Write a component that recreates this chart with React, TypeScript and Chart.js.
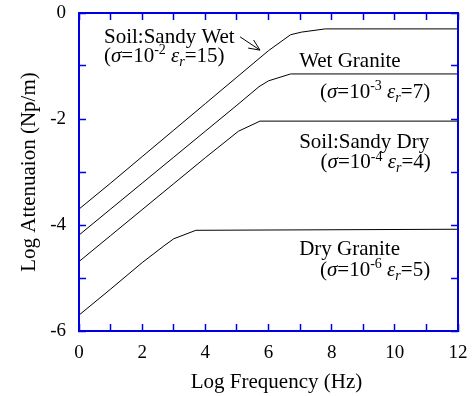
import React, { useEffect, useRef } from "react";
import { Chart, registerables } from "chart.js";

Chart.register(...registerables);

// ---- data ----
const wetSandX = [0, 1, 2, 3, 4, 5, 6, 6.7, 7.05, 7.8, 12];
const wetSandY = [-3.7, -3.21, -2.71, -2.21, -1.71, -1.21, -0.71, -0.41, -0.36, -0.3, -0.3];

const wetGraniteX = [0, 1, 2, 3, 4, 5, 5.7, 6.0, 6.7, 12];
const wetGraniteY = [-4.19, -3.7, -3.21, -2.72, -2.23, -1.74, -1.39, -1.28, -1.15, -1.15];

const drySandX = [0, 1, 2, 3, 4, 5.05, 5.73, 12];
const drySandY = [-4.69, -4.2, -3.71, -3.22, -2.73, -2.23, -2.04, -2.04];

const dryGraniteX = [0, 1, 2, 2.72, 3.0, 3.7, 12];
const dryGraniteY = [-5.7, -5.21, -4.71, -4.38, -4.26, -4.1, -4.08];

const materialNames = ["Soil:Sandy Wet", "Wet Granite", "Soil:Sandy Dry", "Dry Granite"];
const sigmaExponents = ["-2", "-3", "-4", "-6"];
const epsilonR = ["15", "7", "4", "5"];

const xTickLabels = ["0", "2", "4", "6", "8", "10", "12"];
const yTickLabels = ["0", "-2", "-4", "-6"];

const xTitle = "Log Frequency (Hz)";
const yTitle = "Log Attenuaion (Np/m)";

const FONT = "'Liberation Serif', 'Times New Roman', serif";
const AXIS_BLUE = "#0000e1";
const TICK_IN = -7;

const zip = (xs: number[], ys: number[]) => xs.map((x, i) => ({ x, y: ys[i] }));

type Seg = { t: string; it?: boolean; sup?: boolean; sub?: boolean };

function drawRich(ctx: CanvasRenderingContext2D, segs: Seg[], x: number, y: number, size: number) {
  let cx = x;
  for (const s of segs) {
    const small = s.sup || s.sub;
    const sz = small ? Math.round(size * 0.66) : size;
    ctx.font = `${s.it ? "italic " : ""}${sz}px ${FONT}`;
    const dy = s.sup ? -size * 0.36 : s.sub ? size * 0.2 : 0;
    ctx.fillText(s.t, cx, y + dy);
    cx += ctx.measureText(s.t).width;
  }
}

function drawFrame(chart: any) {
  const ctx: CanvasRenderingContext2D = chart.ctx;
  const ca = chart.chartArea;
  const left = Math.round(ca.left);
  const right = Math.round(ca.right);
  const top = Math.round(ca.top);
  const bottom = Math.round(ca.bottom);
  ctx.save();
  ctx.fillStyle = AXIS_BLUE;
  const lw = 2;
  ctx.fillRect(left - 1, top - 1, right - left + 2, lw);
  ctx.fillRect(left - 1, bottom - 1, right - left + 2, lw);
  ctx.fillRect(left - 1, top - 1, lw, bottom - top + 2);
  ctx.fillRect(right - 1, top - 1, lw, bottom - top + 2);
  ctx.restore();
}

const innerTickGrid = {
  display: true,
  drawOnChartArea: false,
  drawTicks: true,
  tickLength: TICK_IN,
  tickColor: AXIS_BLUE,
  tickWidth: 1.5,
  color: AXIS_BLUE,
};

export default function App() {
  const ref = useRef<HTMLCanvasElement | null>(null);

  useEffect(() => {
    if (!ref.current) return;

    const namePos = [
      [0.79, -0.56],
      [6.97, -1.01],
      [6.97, -2.54],
      [6.97, -4.57],
    ];
    const paramPos = [
      [0.79, -0.92],
      [7.63, -1.6],
      [7.65, -2.93],
      [7.63, -4.96],
    ];
    const arrowFrom = [5.1, -0.45];
    const arrowTo = [5.73, -0.7];

    const framePlugin = {
      id: "frameAndNotes",
      afterDraw(chart: any) {
        drawFrame(chart);
        const ctx: CanvasRenderingContext2D = chart.ctx;
        const ca = chart.chartArea;
        const xs = chart.scales.x;
        const ys = chart.scales.y;
        ctx.save();

        ctx.fillStyle = "#000";
        ctx.font = `21px ${FONT}`;
        ctx.textAlign = "center";
        ctx.textBaseline = "alphabetic";
        ctx.fillText(xTitle, (ca.left + ca.right) / 2 + 8, 388);

        ctx.textAlign = "left";
        const size = 21;
        for (let i = 0; i < materialNames.length; i++) {
          ctx.font = `${size}px ${FONT}`;
          ctx.fillText(
            materialNames[i],
            xs.getPixelForValue(namePos[i][0]),
            ys.getPixelForValue(namePos[i][1])
          );
          drawRich(
            ctx,
            [
              { t: "(" },
              { t: "σ", it: true },
              { t: "=10" },
              { t: sigmaExponents[i], sup: true },
              { t: " " },
              { t: "ε", it: true },
              { t: "r", it: true, sub: true },
              { t: "=" + epsilonR[i] + ")" },
            ],
            xs.getPixelForValue(paramPos[i][0]),
            ys.getPixelForValue(paramPos[i][1]),
            size
          );
        }

        const ax0 = xs.getPixelForValue(arrowFrom[0]);
        const ay0 = ys.getPixelForValue(arrowFrom[1]);
        const ax1 = xs.getPixelForValue(arrowTo[0]);
        const ay1 = ys.getPixelForValue(arrowTo[1]);
        const ang = Math.atan2(ay1 - ay0, ax1 - ax0);
        const hl = 12;
        const ha = (24 * Math.PI) / 180;
        ctx.strokeStyle = "#000";
        ctx.lineWidth = 1;
        ctx.beginPath();
        ctx.moveTo(ax0, ay0);
        ctx.lineTo(ax1, ay1);
        ctx.moveTo(ax1 - hl * Math.cos(ang - ha), ay1 - hl * Math.sin(ang - ha));
        ctx.lineTo(ax1, ay1);
        ctx.lineTo(ax1 - hl * Math.cos(ang + ha), ay1 - hl * Math.sin(ang + ha));
        ctx.stroke();
        ctx.restore();
      },
    };

    const mk = (label: string, xs: number[], ys: number[]) => ({
      label,
      data: zip(xs, ys),
      borderColor: "#000",
      backgroundColor: "#000",
      borderWidth: 1,
      pointRadius: 0,
      showLine: true,
      xAxisID: "x",
      yAxisID: "y",
    });

    const chart = new Chart(ref.current, {
      type: "scatter",
      data: {
        datasets: [
          mk(materialNames[0], wetSandX, wetSandY),
          mk(materialNames[1], wetGraniteX, wetGraniteY),
          mk(materialNames[2], drySandX, drySandY),
          mk(materialNames[3], dryGraniteX, dryGraniteY),
        ],
      },
      options: {
        responsive: false,
        animation: false,
        layout: { padding: { top: 13, right: 17, left: 0, bottom: 0 } },
        plugins: { legend: { display: false }, tooltip: { enabled: false } },
        scales: {
          x: {
            type: "linear",
            position: "bottom",
            min: 0,
            max: 12,
            grid: innerTickGrid,
            border: { display: true, color: AXIS_BLUE, width: 2 },
            ticks: {
              stepSize: 1,
              padding: 11 - TICK_IN,
              color: "#000",
              font: { family: FONT, size: 19 },
              maxRotation: 0,
              autoSkip: false,
              callback: (v: any) => {
                const s = String(v);
                return xTickLabels.includes(s) ? s : "";
              },
            },
            afterFit: (s: any) => {
              s.height = 65;
              s.paddingLeft = 0;
              s.paddingRight = 0;
            },
          },
          x2: {
            type: "linear",
            position: "top",
            min: 0,
            max: 12,
            grid: innerTickGrid,
            border: { display: false },
            ticks: { stepSize: 1, display: false, autoSkip: false },
            afterFit: (s: any) => {
              s.height = 0;
              s.paddingLeft = 0;
              s.paddingRight = 0;
            },
          },
          y: {
            type: "linear",
            position: "left",
            min: -6,
            max: 0,
            grid: innerTickGrid,
            border: { display: true, color: AXIS_BLUE, width: 2 },
            ticks: {
              stepSize: 1,
              padding: 13 - TICK_IN,
              color: "#000",
              font: { family: FONT, size: 19 },
              autoSkip: false,
              callback: (v: any) => {
                const s = String(v);
                return yTickLabels.includes(s) ? s : "";
              },
            },
            title: {
              display: true,
              text: yTitle,
              color: "#000",
              font: { family: FONT, size: 21 },
              padding: { top: 17, bottom: 0 },
            },
            afterFit: (s: any) => {
              s.width = 79;
              s.paddingTop = 0;
              s.paddingBottom = 0;
            },
          },
          y2: {
            type: "linear",
            position: "right",
            min: -6,
            max: 0,
            grid: innerTickGrid,
            border: { display: false },
            ticks: { stepSize: 1, display: false, autoSkip: false },
            afterFit: (s: any) => {
              s.width = 0;
              s.paddingTop = 0;
              s.paddingBottom = 0;
            },
          },
        },
      },
      plugins: [framePlugin],
    });

    return () => chart.destroy();
  }, []);

  return (
    <div style={{ position: "fixed", left: 0, top: 0, width: 475, height: 396, background: "#fff" }}>
      <canvas ref={ref} width={475} height={396} style={{ display: "block" }} />
    </div>
  );
}
